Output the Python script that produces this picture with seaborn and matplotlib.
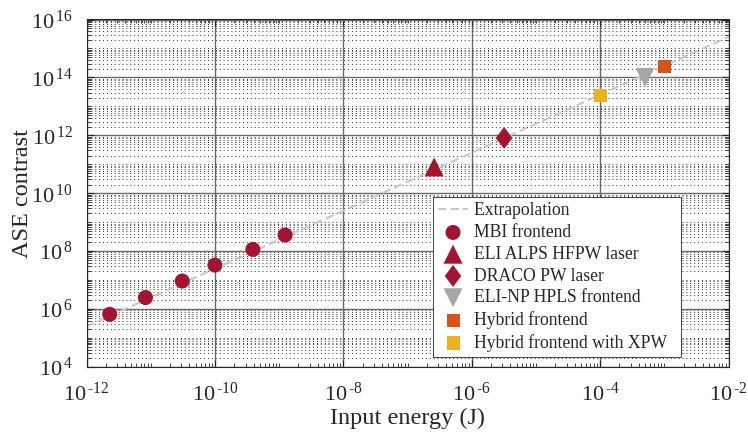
import numpy as np
import matplotlib
matplotlib.use("Agg")
import matplotlib.pyplot as plt
import seaborn as sns
from matplotlib.ticker import LogLocator, NullFormatter, FuncFormatter

# extrapolation line (two end points)
extrap_energy = [1e-12, 1e-2]
extrap_contrast = [2.5e5, 2.5e15]

# measured points
mbi_energy = [2.3e-12, 8.3e-12, 3.1e-11, 1.0e-10, 3.9e-10, 1.24e-9]
mbi_contrast = [6.6e5, 2.5e6, 9.3e6, 3.3e7, 1.15e8, 3.6e8]
eli_alps_energy = [2.6e-7]
eli_alps_contrast = [8.1e10]
draco_energy = [3.2e-6]
draco_contrast = [8.1e11]
eli_np_energy = [5e-4]
eli_np_contrast = [1.0e14]
hybrid_energy = [1e-3]
hybrid_contrast = [2.3e14]
hybrid_xpw_energy = [1e-4]
hybrid_xpw_contrast = [2.4e13]

RED = "#A2142F"
GREY = "#A6A6A6"
ORANGE = "#D95319"
YELLOW = "#EDB120"
TXT = "#262626"

sns.set_style("ticks")
plt.rcParams["font.family"] = ["Liberation Serif", "DejaVu Serif"]
plt.rcParams["mathtext.fontset"] = "custom"
plt.rcParams["mathtext.rm"] = "Liberation Serif"
plt.rcParams["mathtext.it"] = "Liberation Serif:italic"
plt.rcParams["mathtext.bf"] = "Liberation Serif:bold"

fig = plt.figure(figsize=(7.48, 4.36), dpi=100)
ax = fig.add_axes([86.5 / 748, 69 / 436, 642 / 748, 347.5 / 436])
ax.set_xscale("log")
ax.set_yscale("log")

sns.lineplot(x=extrap_energy, y=extrap_contrast, ax=ax, color="#c8c8c8",
             lw=1.5, linestyle=(0, (4, 2)), label="Extrapolation", zorder=2)

diamond = [(0, 1), (0.75, 0), (0, -1), (-0.75, 0), (0, 1)]
series = [
    (mbi_energy, mbi_contrast, "o", 117, RED, "MBI frontend"),
    (eli_alps_energy, eli_alps_contrast, "^", 187, RED, "ELI ALPS HFPW laser"),
    (draco_energy, draco_contrast, diamond, 250, RED, "DRACO PW laser"),
    (eli_np_energy, eli_np_contrast, "v", 187, GREY, "ELI-NP HPLS frontend"),
    (hybrid_energy, hybrid_contrast, "s", 88, ORANGE, "Hybrid frontend"),
    (hybrid_xpw_energy, hybrid_xpw_contrast, "s", 88, YELLOW, "Hybrid frontend with XPW"),
]
for xs, ys, mk, size, col, lab in series:
    sns.scatterplot(x=xs, y=ys, ax=ax, marker=mk, s=size, color=col,
                    edgecolor="none", linewidth=0, label=lab, zorder=3)


def pow_label(v, pos):
    n = int(round(np.log10(v)))
    exp = (r"\text{-}%d" % -n) if n < 0 else "%d" % n
    return r"$\mathregular{10^{\,%s}}$" % exp


ax.set_xlim(1e-12, 1e-2)
ax.set_ylim(1e4, 1e16)
for axis in (ax.xaxis, ax.yaxis):
    axis.set_major_locator(LogLocator(base=100, numticks=20))
    axis.set_major_formatter(FuncFormatter(pow_label))
    axis.set_minor_locator(LogLocator(base=10, subs=np.arange(1, 10), numticks=100))
    axis.set_minor_formatter(NullFormatter())

ax.set_axisbelow(True)
ax.grid(which="major", color="#6a6a6a", lw=1.0, ls="-")
ax.grid(which="minor", axis="y", color="#333333", lw=0.7, ls=(0, (1, 3)))

ax.tick_params(which="both", direction="in", top=True, right=True,
               colors=TXT, labelsize=16)
ax.tick_params(which="major", length=5, width=0.8)
ax.tick_params(axis="x", which="major", pad=11)
ax.tick_params(axis="y", which="major", pad=10)
ax.tick_params(which="minor", length=3, width=0.6)
for sp in ax.spines.values():
    sp.set_color(TXT)
    sp.set_linewidth(0.8)

ax.set_xlabel("Input energy (J)", fontsize=17.5, color=TXT, labelpad=2)
ax.set_ylabel("ASE contrast", fontsize=17.5, color=TXT)
ax.yaxis.set_label_coords(-0.083, 0.5)

leg = ax.legend(loc="lower right", bbox_to_anchor=(0.926, 0.029), fontsize=12.7,
                frameon=True, fancybox=False, edgecolor=TXT, framealpha=1,
                borderpad=0.3, labelspacing=0.27, handlelength=1.7,
                handletextpad=0.35, borderaxespad=0)
leg.get_frame().set_linewidth(0.6)
for t in leg.get_texts():
    t.set_color(TXT)
    t.set_text(t.get_text() + "  ")  # extra right padding like the original

fig.savefig("out.png", dpi=100, facecolor="white")
